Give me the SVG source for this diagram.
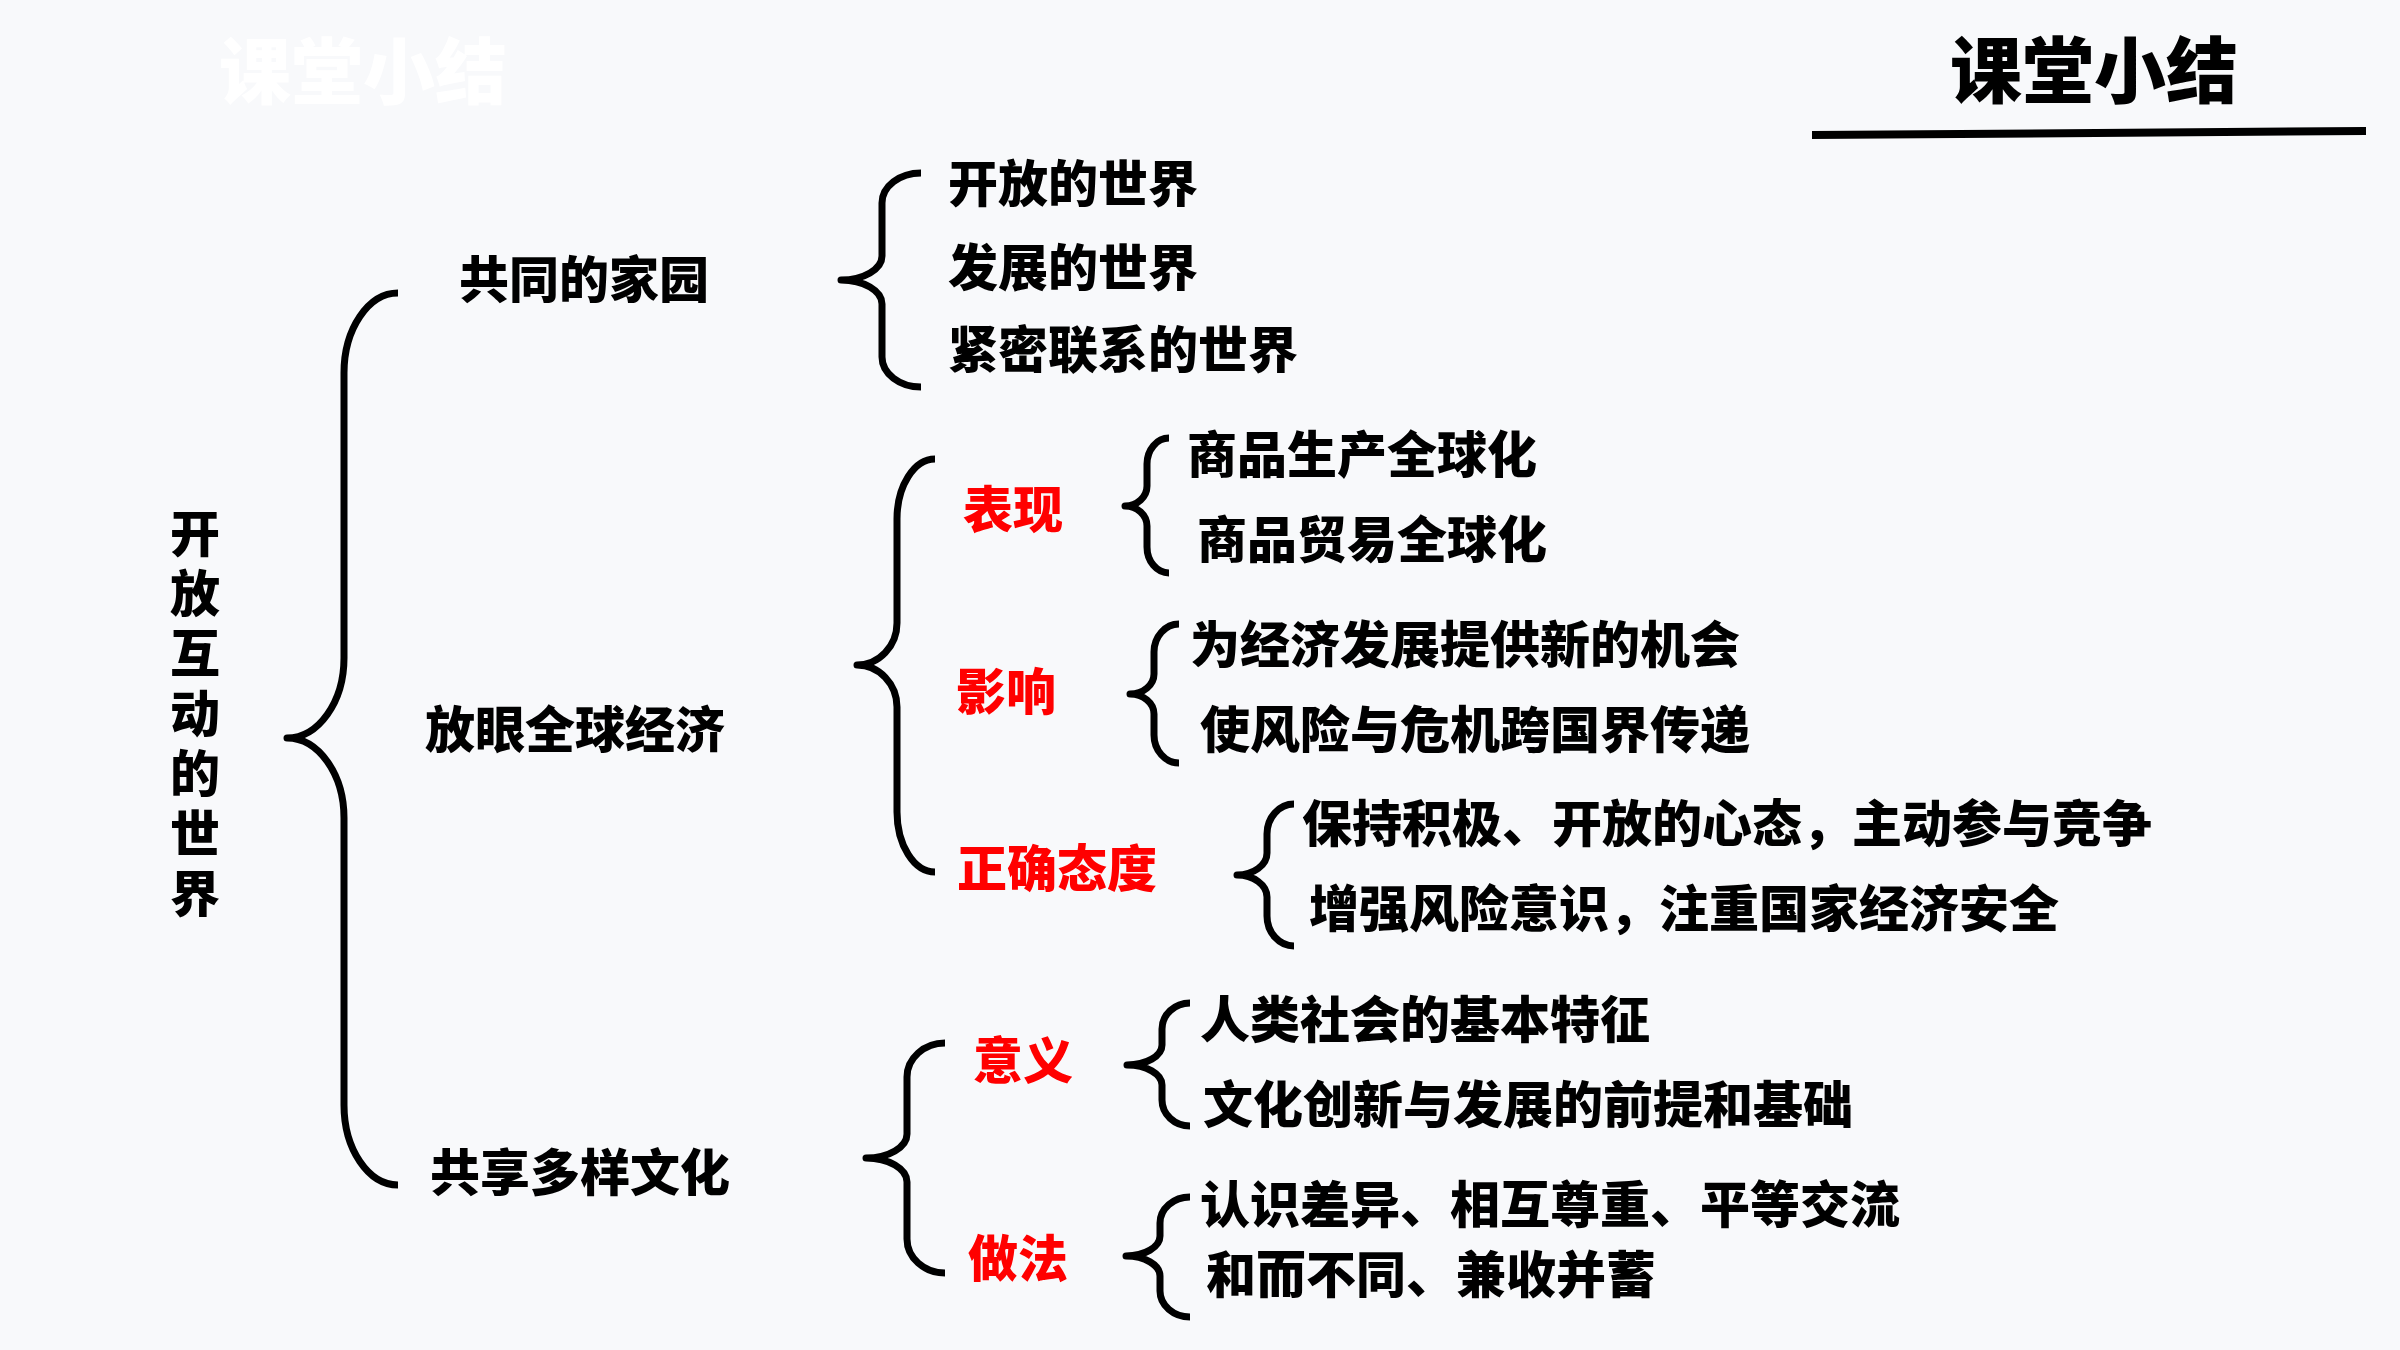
<svg xmlns="http://www.w3.org/2000/svg" width="2400" height="1350" viewBox="0 0 2400 1350">
<style>
.t{font-family:"Noto Sans CJK SC","Noto Sans CJK JP",sans-serif;font-weight:900;font-size:50px;fill:#000;dominant-baseline:central}
.r{fill:#FF0000}
.title{font-size:72px}
.brace{fill:none;stroke:#000;stroke-width:7;stroke-linecap:butt;stroke-linejoin:round}
</style>
<rect x="0" y="0" width="2400" height="1350" fill="#F8F9FB"/>
<g id="header">
<text class="t title" x="219" y="66" style="fill:#FFFFFF">课堂小结</text>
<text class="t title" x="1950" y="65">课堂小结</text>
<line x1="1812" y1="135" x2="2366" y2="131" stroke="#000" stroke-width="8"/>
</g>
<g id="connectors">
<path class="brace" d="M398,293 C368.3,293 344,329 344,373 L344,658 C344,702 318.4,738 287,738 C318.4,738 344,774 344,818 L344,1105 C344,1149 368.3,1185 398,1185"/>
<path class="brace" d="M921,173 C899.5,173 882,186.5 882,203 L882,256 C882,269.2 863.6,280 841,280 C863.6,280 882,290.8 882,304 L882,357 C882,373.5 899.5,387 921,387"/>
<path class="brace" d="M935,459 C914.1,459 897,486 897,519 L897,623 C897,646.1 879,665 857,665 C879,665 897,683.9 897,707 L897,812 C897,845 914.1,872 935,872"/>
<path class="brace" d="M945,1043 C924.1,1043 907,1058.3 907,1077 L907,1134 C907,1147.2 888.6,1158 866,1158 C888.6,1158 907,1168.8 907,1182 L907,1239 C907,1257.7 924.1,1273 945,1273"/>
<path class="brace" d="M1169,438 C1156.9,438 1147,449.7 1147,464 L1147,486 C1147,497 1137.1,506 1125,506 C1137.1,506 1147,515 1147,526 L1147,547 C1147,561.3 1156.9,573 1169,573"/>
<path class="brace" d="M1179,624 C1165.3,624 1154,636.6 1154,652 L1154,674 C1154,685 1143.2,694 1130,694 C1143.2,694 1154,703 1154,714 L1154,735 C1154,750.4 1165.3,763 1179,763"/>
<path class="brace" d="M1294,804 C1279.2,804 1267,817.5 1267,834 L1267,853 C1267,865.1 1253.5,875 1237,875 C1253.5,875 1267,884.9 1267,897 L1267,916 C1267,932.5 1279.2,946 1294,946"/>
<path class="brace" d="M1190,1003 C1174.6,1003 1162,1014.7 1162,1029 L1162,1045 C1162,1056 1146.3,1065 1127,1065 C1146.3,1065 1162,1074 1162,1085 L1162,1100 C1162,1114.3 1174.6,1126 1190,1126"/>
<path class="brace" d="M1190,1197 C1173.5,1197 1160,1208.7 1160,1223 L1160,1236 C1160,1247 1144.7,1256 1126,1256 C1144.7,1256 1160,1265 1160,1276 L1160,1291 C1160,1305.3 1173.5,1317 1190,1317"/>
</g>
<g id="root">
<text class="t" x="195" y="508" writing-mode="vertical-rl" letter-spacing="10">开放互动的世界</text>
</g>
<g id="n-home"><text class="t" x="459" y="276">共同的家园</text></g>
<g id="n-economy"><text class="t" x="425" y="726">放眼全球经济</text></g>
<g id="n-culture"><text class="t" x="430" y="1169">共享多样文化</text></g>
<g id="n-open"><text class="t" x="948" y="180">开放的世界</text></g>
<g id="n-develop"><text class="t" x="948" y="264">发展的世界</text></g>
<g id="n-linked"><text class="t" x="948" y="346">紧密联系的世界</text></g>
<g id="n-show"><text class="t r" x="963" y="506">表现</text></g>
<g id="n-effect"><text class="t r" x="956" y="688">影响</text></g>
<g id="n-attitude"><text class="t r" x="957" y="865">正确态度</text></g>
<g id="n-prod"><text class="t" x="1187" y="451">商品生产全球化</text></g>
<g id="n-trade"><text class="t" x="1197" y="536">商品贸易全球化</text></g>
<g id="n-chance"><text class="t" x="1190" y="641">为经济发展提供新的机会</text></g>
<g id="n-risk"><text class="t" x="1200" y="726">使风险与危机跨国界传递</text></g>
<g id="n-active"><text class="t" x="1302" y="820">保持积极、开放的心态，主动参与竞争</text></g>
<g id="n-safety"><text class="t" x="1309" y="905">增强风险意识，注重国家经济安全</text></g>
<g id="n-meaning"><text class="t r" x="973" y="1057">意义</text></g>
<g id="n-method"><text class="t r" x="968" y="1255">做法</text></g>
<g id="n-feature"><text class="t" x="1200" y="1016">人类社会的基本特征</text></g>
<g id="n-basis"><text class="t" x="1203" y="1101">文化创新与发展的前提和基础</text></g>
<g id="n-respect"><text class="t" x="1200" y="1201">认识差异、相互尊重、平等交流</text></g>
<g id="n-harmony"><text class="t" x="1206" y="1271">和而不同、兼收并蓄</text></g>
</svg>
